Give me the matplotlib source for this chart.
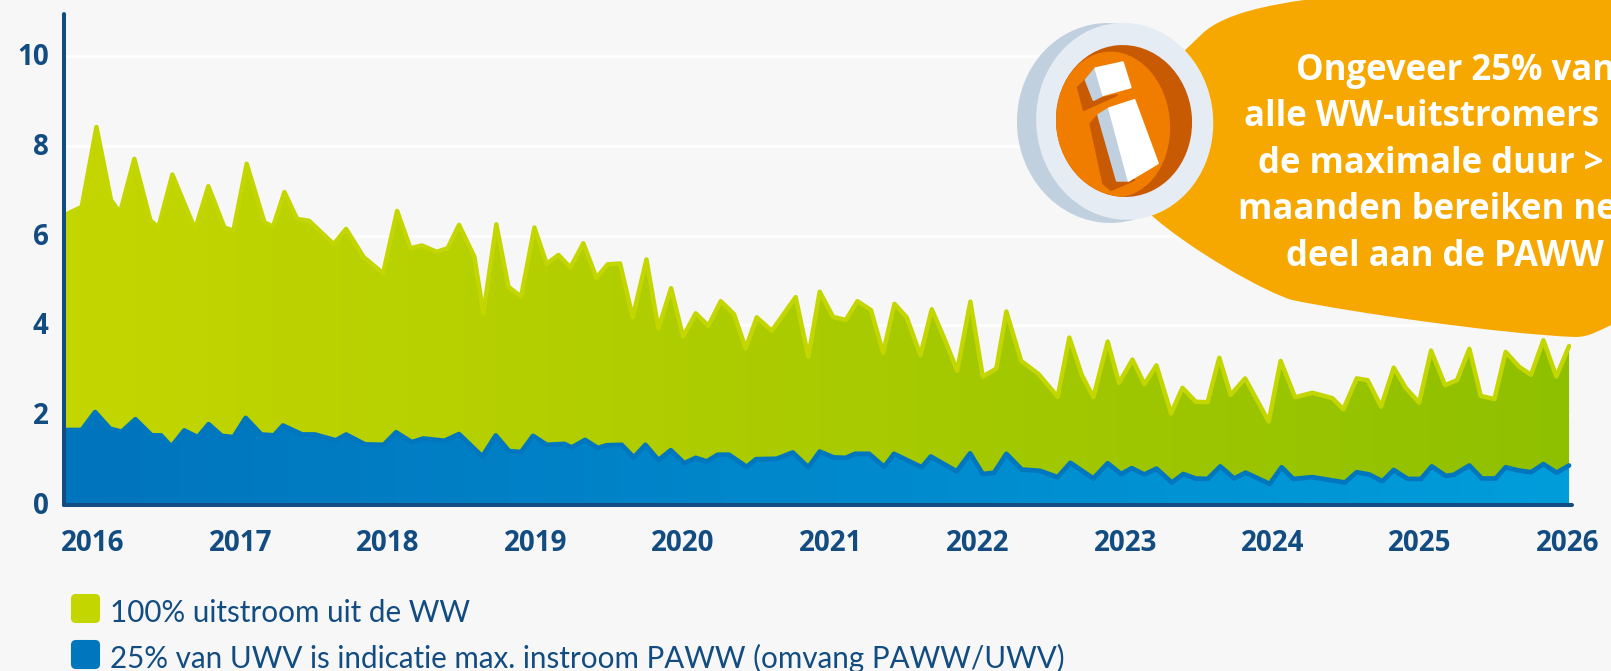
import numpy as np
import matplotlib
matplotlib.use("Agg")
import matplotlib.pyplot as plt
from matplotlib.colors import LinearSegmentedColormap
from matplotlib.patches import Ellipse, FancyBboxPatch, PathPatch, Polygon
from matplotlib.path import Path
from matplotlib.transforms import ScaledTranslation

# values, x = years since start of 2016
uit_x = [-0.185, -0.077, 0.023, 0.122, 0.183, 0.280, 0.389, 0.443, 0.538, 0.692, 0.782, 0.891, 0.952,
         1.042, 1.162, 1.221, 1.298, 1.384, 1.465, 1.632, 1.716, 1.836, 1.967,
         2.062, 2.152, 2.229, 2.331, 2.405, 2.482, 2.586, 2.647, 2.735, 2.817, 2.903, 2.993,
         3.077, 3.156, 3.237, 3.325, 3.414, 3.490, 3.574, 3.660, 3.753, 3.834, 3.920,
         4.001, 4.087, 4.173, 4.257, 4.347, 4.426, 4.501, 4.603, 4.765, 4.851, 4.928,
         5.019, 5.105, 5.184, 5.276, 5.358, 5.435, 5.518, 5.611, 5.688, 5.778, 5.860, 5.950,
         6.034, 6.126, 6.194, 6.294, 6.411, 6.542, 6.621, 6.705, 6.784, 6.881, 6.958,
         7.049, 7.130, 7.212, 7.311, 7.388, 7.478, 7.559, 7.638, 7.715, 7.813, 7.973,
         8.054, 8.152, 8.269, 8.405, 8.479, 8.570, 8.644, 8.735, 8.821, 8.902, 8.993,
         9.074, 9.169, 9.250, 9.334, 9.411, 9.504, 9.580, 9.671, 9.752, 9.836, 9.924, 10.010]
uit_y = [6.47, 6.64, 8.42, 6.79, 6.51, 7.71, 6.34, 6.18, 7.36, 6.14, 7.10, 6.18, 6.11,
         7.60, 6.30, 6.20, 6.97, 6.37, 6.33, 5.81, 6.15, 5.52, 5.16,
         6.55, 5.72, 5.78, 5.64, 5.72, 6.24, 5.53, 4.27, 6.25, 4.86, 4.64, 6.18,
         5.37, 5.57, 5.29, 5.83, 5.06, 5.36, 5.38, 4.18, 5.47, 3.93, 4.83,
         3.75, 4.27, 3.99, 4.54, 4.25, 3.49, 4.18, 3.88, 4.63, 3.30, 4.75,
         4.19, 4.12, 4.54, 4.34, 3.39, 4.48, 4.18, 3.34, 4.36, 3.67, 2.99, 4.53,
         2.86, 3.04, 4.31, 3.21, 2.92, 2.41, 3.73, 2.90, 2.40, 3.64, 2.72,
         3.24, 2.69, 3.11, 2.04, 2.61, 2.30, 2.29, 3.28, 2.45, 2.82, 1.86,
         3.21, 2.40, 2.50, 2.38, 2.13, 2.82, 2.78, 2.19, 3.06, 2.61, 2.28,
         3.44, 2.67, 2.78, 3.48, 2.43, 2.36, 3.41, 3.08, 2.90, 3.67, 2.86, 3.54]

paww_x = [-0.185, -0.077, 0.014, 0.115, 0.194, 0.287, 0.398, 0.461, 0.531, 0.619, 0.710, 0.784, 0.873, 0.952,
          1.035, 1.141, 1.227, 1.288, 1.419, 1.505, 1.646, 1.716, 1.845, 1.971,
          2.055, 2.161, 2.240, 2.383, 2.482, 2.640, 2.731, 2.821, 2.903, 2.984,
          3.077, 3.197, 3.246, 3.337, 3.423, 3.484, 3.585, 3.667, 3.746, 3.834, 3.918,
          4.010, 4.087, 4.162, 4.236, 4.313, 4.433, 4.496, 4.637, 4.745, 4.851, 4.928,
          5.023, 5.105, 5.168, 5.263, 5.365, 5.432, 5.620, 5.681, 5.857, 5.948,
          6.034, 6.111, 6.194, 6.298, 6.423, 6.542, 6.628, 6.784, 6.881, 6.972,
          7.044, 7.130, 7.212, 7.316, 7.394, 7.478, 7.559, 7.645, 7.738, 7.817, 7.980,
          8.061, 8.140, 8.269, 8.491, 8.570, 8.654, 8.744, 8.821, 8.916,
          9.006, 9.079, 9.173, 9.228, 9.334, 9.418, 9.513, 9.580, 9.666, 9.752, 9.836, 9.926, 10.010]
paww_y = [1.67, 1.67, 2.07, 1.70, 1.63, 1.91, 1.55, 1.55, 1.30, 1.66, 1.51, 1.80, 1.54, 1.51,
          1.94, 1.57, 1.55, 1.77, 1.57, 1.57, 1.44, 1.57, 1.35, 1.34,
          1.62, 1.40, 1.48, 1.43, 1.58, 1.08, 1.55, 1.20, 1.18, 1.54,
          1.34, 1.36, 1.28, 1.45, 1.27, 1.33, 1.34, 1.06, 1.34, 1.00, 1.22,
          0.93, 1.05, 0.97, 1.12, 1.12, 0.85, 1.02, 1.03, 1.17, 0.84, 1.19,
          1.06, 1.05, 1.14, 1.14, 0.85, 1.14, 0.84, 1.08, 0.75, 1.15,
          0.69, 0.72, 1.14, 0.79, 0.76, 0.62, 0.94, 0.59, 0.93, 0.69,
          0.82, 0.68, 0.81, 0.50, 0.69, 0.59, 0.58, 0.86, 0.59, 0.72, 0.47,
          0.84, 0.58, 0.62, 0.50, 0.73, 0.68, 0.53, 0.78, 0.58,
          0.58, 0.86, 0.65, 0.67, 0.88, 0.59, 0.59, 0.84, 0.77, 0.73, 0.91, 0.72, 0.88]

years = list(range(2016, 2027))
y_ticks = [0, 2, 4, 6, 8, 10]
legend_labels = ["100% uitstroom uit de WW",
                 "25% van UWV is indicatie max. instroom PAWW (omvang PAWW/UWV)"]
callout_lines = ["Ongeveer 25% van", "alle WW-uitstromers", "de maximale duur >",
                 "maanden bereiken nem", "deel aan de PAWW"]

BG = "#F7F7F7"
NAVY = "#124C80"
GREEN = "#C4D600"
BLUE = "#0076BE"
W, H = 1611, 671

uit_x = 2016 + np.array(uit_x)
paww_x = 2016 + np.array(paww_x)

fig = plt.figure(figsize=(W / 100, H / 100), dpi=100, facecolor=BG)
ax = fig.add_axes([64 / W, (H - 505) / H, (1572 - 64) / W, (505 - 13.6) / H], facecolor=BG)
ax.set_xlim(2015.803, 2026.03)
ax.set_ylim(0, 10.945)


def gradient_fill(x, y, left, right, z):
    # horizontal gradient clipped to the area under the line
    poly = ax.fill_between(x, 0, y, color="none", zorder=z)
    cmap = LinearSegmentedColormap.from_list("g", [left, right])
    im = ax.imshow(np.linspace(0, 1, 256).reshape(1, -1), cmap=cmap, aspect="auto",
                   extent=[x[0], x[-1], 0, 10.945], zorder=z)
    im.set_clip_path(poly.get_paths()[0], transform=ax.transData)


gradient_fill(uit_x, uit_y, "#C4D600", "#8FC000", 2)
ax.plot(uit_x, uit_y, color=GREEN, lw=3.2, solid_joinstyle="round", solid_capstyle="round", zorder=3, clip_on=False)
gradient_fill(paww_x, paww_y, "#0074BD", "#009DDB", 4)
ax.plot(paww_x, paww_y, color=BLUE, lw=3.4, solid_joinstyle="round", solid_capstyle="round", zorder=5, clip_on=False)
ax.set_xlim(2015.803, 2026.03)
ax.set_ylim(0, 10.945)

ax.set_yticks(y_ticks)
ax.set_xticks(years)
ax.grid(axis="y", color="white", lw=1.8, zorder=0)
ax.set_axisbelow(True)
ax.tick_params(length=0, labelcolor=NAVY)
ax.tick_params(axis="x", pad=17)
ax.tick_params(axis="y", pad=11)
for lab in ax.get_xticklabels() + ax.get_yticklabels():
    lab.set_fontfamily("Open Sans")
    lab.set_fontweight("bold")
    lab.set_fontsize(20)
# y labels sit a little above their gridlines
for lab in ax.get_yticklabels():
    lab.set_transform(lab.get_transform() + ScaledTranslation(0, 2 / 100, fig.dpi_scale_trans))
for s in ["top", "right"]:
    ax.spines[s].set_visible(False)
for s in ["left", "bottom"]:
    ax.spines[s].set_color(NAVY)
    ax.spines[s].set_linewidth(2.9)
    ax.spines[s].set_capstyle("round")
    ax.spines[s].set_zorder(6)

# overlay in pixels for callout, icon and legend
ov = fig.add_axes([0, 0, 1, 1], facecolor="none")
ov.set_xlim(0, W)
ov.set_ylim(H, 0)
ov.axis("off")

bubble = [(Path.MOVETO, (1180, 55)),
          (Path.LINETO, (1203, 33)),
          (Path.CURVE4, (1225, 13)), (Path.CURVE4, (1270, 5)), (Path.CURVE4, (1304, 0)),
          (Path.LINETO, (1611, 0)),
          (Path.LINETO, (1611, 325)),
          (Path.CURVE4, (1600, 330)), (Path.CURVE4, (1590, 337)), (Path.CURVE4, (1575, 337)),
          (Path.CURVE4, (1500, 334)), (Path.CURVE4, (1350, 312)), (Path.CURVE4, (1292, 300)),
          (Path.CURVE4, (1265, 292)), (Path.CURVE4, (1190, 250)), (Path.CURVE4, (1150, 214)),
          (Path.CLOSEPOLY, (1180, 55))]
codes, verts = zip(*bubble)
ov.add_patch(PathPatch(Path(verts, codes), fc="#F7A800", ec="none", zorder=1))

ov.add_patch(Ellipse((1109, 123), 184, 200, angle=-5, fc="#C0D0DF", ec="none", zorder=2))
ov.add_patch(Ellipse((1124.7, 121.3), 177, 197, angle=-5, fc="#E6ECF3", ec="none", zorder=3))
dark = Ellipse((1124, 121), 136, 152, angle=-5, fc="#C85A04", ec="none", zorder=4)
ov.add_patch(dark)
light = Ellipse((1113, 124.5), 114, 146, angle=-5, fc="#F07D00", ec="none", zorder=5)
ov.add_patch(light)
light.set_clip_path(dark)


def icon_pts(pts):
    # points taken from a crop of the icon
    return [(1000 + px / 2.566, py / 3) for px, py in pts]


shapes = [
    ([(200, 262), (220, 240), (240, 300), (300, 285), (215, 330)], "#C85A04"),
    ([(232, 372), (252, 345), (300, 542), (345, 540), (285, 570), (265, 550)], "#C85A04"),
    ([(220, 240), (245, 205), (265, 285), (240, 300)], "#C0D0DF"),
    ([(252, 345), (280, 325), (330, 542), (300, 542)], "#C0D0DF"),
    ([(245, 205), (315, 187), (335, 262), (265, 285)], "white"),
    ([(280, 325), (345, 300), (405, 490), (330, 542)], "white"),
]
for pts, col in shapes:
    ov.add_patch(Polygon(icon_pts(pts), closed=True, fc=col, ec=col, lw=1.5, joinstyle="round", zorder=6))

line_left = [1296, 1243.5, 1258, 1238, 1286]
line_base = [80, 126, 172.7, 219, 266]
for txt, lx, ly in zip(callout_lines, line_left, line_base):
    ov.text(lx, ly, txt, color="white", fontsize=25, fontweight="bold", family="Open Sans",
            ha="left", va="baseline", zorder=7)

for (y0, col, lab) in zip([593, 639], [GREEN, BLUE], legend_labels):
    ov.add_patch(FancyBboxPatch((72, y0 + 2), 27, 27, boxstyle="round,pad=0,rounding_size=4",
                                mutation_aspect=1, fc=col, ec=col, lw=1.5))
    ov.text(110, y0 + 19.5, lab, color=NAVY, fontsize=21.3, family="Lato", fontweight="normal",
            ha="left", va="center")

fig.savefig("out.png", dpi=100, facecolor=BG)
